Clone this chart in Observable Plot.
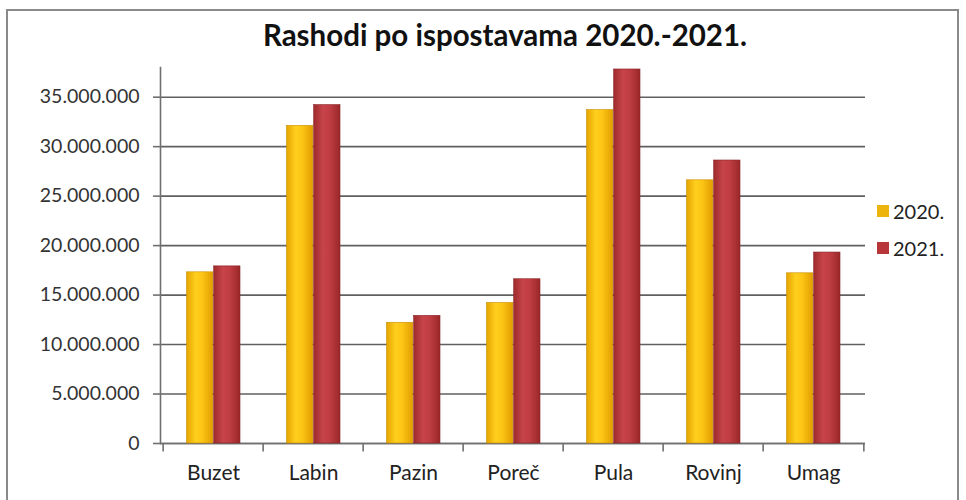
<!DOCTYPE html>
<html>
<head>
<meta charset="utf-8">
<script src="https://cdn.jsdelivr.net/npm/d3@7"></script>
<script src="https://cdn.jsdelivr.net/npm/@observablehq/plot@0.6"></script>
<style>
  html, body { margin: 0; padding: 0; background: #fff; }
  #wrap { position: relative; width: 966px; height: 500px; overflow: hidden; font-family: Lato, "Open Sans", sans-serif; }
  #border { position: absolute; left: 6px; top: 9px; width: 953px; height: 520px; border: 2px solid #8a8a8a; box-sizing: border-box; }
  #title { position: absolute; left: 0; width: 1010px; top: 17px; text-align: center; font-weight: bold; font-size: 29.5px; color: #111; }
  #legend { position: absolute; left: 877px; top: 192px; font-size: 20px; color: #222; }
  .row { display: flex; align-items: center; height: 37px; }
  .sw { width: 12px; height: 12px; margin-right: 4px; }
  svg { position: absolute; left: 0; top: 0; }
</style>
</head>
<body>
<div id="wrap">
  <div id="border"></div>
  <div id="title">Rashodi po ispostavama 2020.-2021.</div>
  <div id="legend"></div>
</div>
<script>
const categories = ["Buzet", "Labin", "Pazin", "Poreč", "Pula", "Rovinj", "Umag"];
const values2020 = [17300000, 32100000, 12200000, 14200000, 33700000, 26600000, 17200000];
const values2021 = [17900000, 34200000, 12900000, 16600000, 37800000, 28600000, 19300000];
const seriesNames = ["2020.", "2021."];
const yTicks = [0, 5000000, 10000000, 15000000, 20000000, 25000000, 30000000, 35000000];

const rows2020 = categories.map((c, i) => ({cat: c, value: values2020[i]}));
const rows2021 = categories.map((c, i) => ({cat: c, value: values2021[i]}));

const W = 966, H = 500, mL = 160, mR = 101, mT = 67, mB = 57;
const step = (W - mL - mR) / categories.length;
const bw = step * 0.54;
const fmt = d => d3.format(",")(d).replace(/,/g, ".");

const chart = Plot.plot({
  width: W, height: H,
  marginLeft: mL, marginRight: mR, marginTop: mT, marginBottom: mB,
  style: {fontFamily: "Lato, 'Open Sans', sans-serif", fontSize: "19.5px", color: "#333", background: "transparent"},
  x: {domain: categories, paddingInner: 0.46, paddingOuter: 0.23},
  y: {domain: [0, 38000000]},
  marks: [
    Plot.gridY(yTicks, {stroke: "#606060", strokeOpacity: 1, strokeWidth: 1.6}),
    Plot.frame({anchor: "left", stroke: "#707070", strokeWidth: 1.6}),
    Plot.ruleY([0], {stroke: "#707070", strokeWidth: 1.6}),
    Plot.axisY(yTicks, {tickFormat: fmt, tickSize: 7, tickPadding: 14, stroke: "#707070", strokeWidth: 1.6, fill: "#333", fontSize: 19.5, label: null}),
    Plot.axisX({tickSize: 0, tickPadding: 22, fill: "#222", fontSize: 21, label: null}),
    Plot.ruleX(categories, {x: d => d, dx: -step / 2, y1: 0, y2: -850000, stroke: "#707070", strokeWidth: 1.6}),
    Plot.ruleX(categories.slice(-1), {x: d => d, dx: step / 2, y1: 0, y2: -850000, stroke: "#707070", strokeWidth: 1.6}),
    Plot.barY(rows2020, {x: "cat", y: "value", fill: "url(#gy)", insetRight: bw / 2, insetLeft: 0.5, stroke: "#c98f00", strokeWidth: 0.6}),
    Plot.barY(rows2021, {x: "cat", y: "value", fill: "url(#gr)", insetLeft: bw / 2 + 0.5, stroke: "#8a2325", strokeWidth: 0.6})
  ]
});

const defs = `<defs>
<linearGradient id="gy" x1="0" x2="1" y1="0" y2="0">
  <stop offset="0" stop-color="#e6a400"/><stop offset="0.35" stop-color="#ffcf1e"/>
  <stop offset="0.6" stop-color="#fcc515"/><stop offset="1" stop-color="#e29c00"/>
</linearGradient>
<linearGradient id="gr" x1="0" x2="1" y1="0" y2="0">
  <stop offset="0" stop-color="#9e2a2c"/><stop offset="0.35" stop-color="#c6444a"/>
  <stop offset="0.6" stop-color="#c03e43"/><stop offset="1" stop-color="#9a2729"/>
</linearGradient></defs>`;
chart.insertAdjacentHTML("afterbegin", defs);
document.getElementById("wrap").appendChild(chart);

const legendColors = ["#eeb40e", "#b8353a"];
const leg = document.getElementById("legend");
seriesNames.forEach((s, i) => {
  const r = document.createElement("div");
  r.className = "row";
  r.innerHTML = `<span class="sw" style="background:${legendColors[i]}"></span><span>${s}</span>`;
  leg.appendChild(r);
});
</script>
</body>
</html>
